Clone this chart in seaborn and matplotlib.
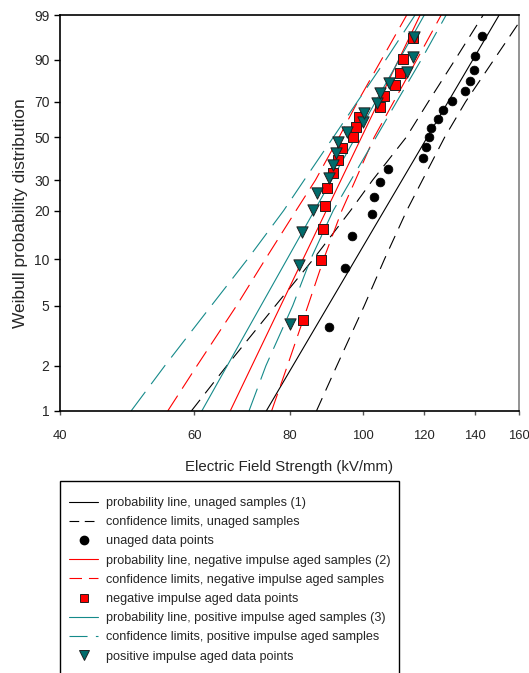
import numpy as np
import pandas as pd
import matplotlib
matplotlib.use("Agg")
import matplotlib.pyplot as plt
import seaborn as sns
from matplotlib.lines import Line2D
from matplotlib.patches import Rectangle
from matplotlib.ticker import NullLocator

# ---------------- data ----------------
unaged_kv = [90.2, 94.6, 96.6, 102.7, 103.3, 105.2, 107.7, 119.8, 120.9, 122.0,
             122.7, 125.3, 127.2, 130.7, 136.0, 138.0, 139.7, 140.1, 143.1]
unaged_pct = [3.6, 8.8, 13.9, 19.1, 24.2, 29.4, 34.5, 39.7, 44.8, 50.0,
              55.2, 60.3, 65.5, 70.6, 75.8, 80.9, 86.1, 91.2, 96.4]

neg_kv = [83.3, 88.0, 88.4, 89.1, 89.5, 91.2, 92.6, 93.8, 96.9, 97.8,
          98.8, 105.0, 106.5, 110.0, 111.7, 112.6, 116.3]
neg_pct = [4.0, 9.8, 15.5, 21.3, 27.0, 32.8, 38.5, 44.3, 50.0, 55.7,
           61.5, 67.2, 73.0, 78.7, 84.5, 90.2, 96.0]

pos_kv = [80.1, 82.4, 83.0, 86.0, 87.0, 90.1, 91.3, 92.1, 92.6, 95.1,
          100.0, 100.2, 104.1, 105.0, 108.0, 114.0, 116.1, 116.6]
pos_pct = [3.8, 9.2, 14.7, 20.1, 25.5, 31.0, 36.4, 41.8, 47.3, 52.7,
           58.2, 63.6, 69.0, 74.5, 79.9, 85.3, 90.8, 96.2]

# probability (fit) lines: field strength at 1 % and 99 %
fit_pct = [1, 99]
unaged_fit = [74.6, 150.7]
neg_fit = [66.9, 118.7]
pos_fit = [61.4, 120.2]

# confidence limits
band_pct = [1, 2, 5, 10, 20, 30, 50, 70, 90, 99]
unaged_lo = [59.5, 66.2, 76.7, 86.0, 96.2, 102.8, 113.8, 121.7, 131.9, 143.6]
unaged_hi = [86.8, 92.3, 100.3, 106.6, 114.0, 119.5, 127.8, 136.2, 148.3, 162.5]
neg_lo = [55.4, 60.5, 68.2, 74.4, 81.6, 86.5, 92.9, 98.3, 105.6, 114.0]
neg_hi = [75.8, 79.5, 84.6, 88.7, 93.7, 97.6, 103.3, 109.6, 117.5, 126.5]
pos_lo = [49.6, 54.9, 63.2, 70.5, 78.6, 83.6, 91.3, 98.2, 107.0, 116.9]
pos_hi = [70.8, 74.5, 80.8, 85.3, 91.3, 96.3, 103.9, 110.6, 119.1, 128.4]

x_ticks = [40, 60, 80, 100, 120, 140, 160]
y_ticks = [1, 2, 5, 10, 20, 30, 50, 70, 90, 99]

labels = [
    "probability line, unaged samples (1)",
    "confidence limits, unaged samples",
    "unaged data points",
    "probability line, negative impulse aged samples (2)",
    "confidence limits, negative impulse aged samples",
    "negative impulse aged data points",
    "probability line, positive impulse aged samples (3)",
    "confidence limits, positive impulse aged samples",
    "positive impulse aged data points",
]

# ---------------- style ----------------
sns.set_theme(style="white")
plt.rcParams["font.family"] = ["Liberation Sans", "DejaVu Sans"]
plt.rcParams["lines.scale_dashes"] = False
NARROW = ["Liberation Sans Narrow", "DejaVu Sans Condensed", "Liberation Sans"]

BLACK = "#000000"
RED = "#ff0000"
TEAL = "#158a8a"
TEAL_MK = "#006b6b"

dash_k = (0, (10, 6))
dash_r = (0, (13, 6))
dash_t = (0, (17, 7))


def fwd(p):
    p = np.asarray(p, dtype=float)
    with np.errstate(all="ignore"):
        q = np.clip(p / 100.0, 1e-12, 1 - 1e-12)
        return np.log(-np.log(1 - q))


def inv(u):
    u = np.asarray(u, dtype=float)
    with np.errstate(all="ignore"):
        return 100.0 * (1 - np.exp(-np.exp(u)))


fig = plt.figure(figsize=(5.29, 6.73), dpi=100)
ax = fig.add_axes([60 / 529, 1 - 410.8 / 673, 459 / 529, 395.8 / 673])

groups = [
    (unaged_fit, unaged_lo, unaged_hi, BLACK, dash_k),
    (neg_fit, neg_lo, neg_hi, RED, dash_r),
    (pos_fit, pos_lo, pos_hi, TEAL, dash_t),
]
for fit, lo, hi, col, dsh in groups:
    sns.lineplot(x=fit, y=fit_pct, ax=ax, color=col, lw=0.8, sort=False,
                 estimator=None, legend=False)
    for b in (lo, hi):
        sns.lineplot(x=b, y=band_pct, ax=ax, color=col, lw=0.8, sort=False,
                     estimator=None, legend=False, linestyle=dsh)

sns.scatterplot(x=unaged_kv, y=unaged_pct, ax=ax, marker="o", s=40,
                color=BLACK, edgecolor=BLACK, linewidth=0.5, zorder=5, legend=False)
sns.scatterplot(x=neg_kv, y=neg_pct, ax=ax, marker="s", s=46,
                color=RED, edgecolor="#202020", linewidth=0.7, zorder=6, legend=False)
sns.scatterplot(x=pos_kv, y=pos_pct, ax=ax, marker="v", s=66,
                color=TEAL_MK, edgecolor="#202020", linewidth=0.7, zorder=7, legend=False)

ax.set_xscale("log")
ax.set_yscale("function", functions=(fwd, inv))
ax.set_xlim(40, 160)
ax.set_ylim(1, 99)

ax.set_xticks(x_ticks, [str(t) for t in x_ticks], fontfamily=NARROW, fontsize=9.4)
ax.set_yticks(y_ticks, [str(t) for t in y_ticks], fontfamily=NARROW, fontsize=10)
ax.xaxis.set_minor_locator(NullLocator())
ax.yaxis.set_minor_locator(NullLocator())

for side in ["left", "bottom", "top"]:
    ax.spines[side].set_color("black")
    ax.spines[side].set_linewidth(1.2)
ax.spines["right"].set_color("#808080")
ax.spines["right"].set_linewidth(1.2)

ax.tick_params(axis="y", direction="out", length=4.5, width=1, color="black",
               pad=3, left=True)
ax.tick_params(axis="x", direction="out", length=3, width=1, color="#555555",
               pad=10.5, bottom=True)

ax.set_xlabel("Electric Field Strength (kV/mm)", fontsize=10.8, labelpad=13)
ax.set_ylabel("Weibull probability distribution", fontsize=12.5, labelpad=4)

handles = [
    Line2D([], [], color=BLACK, lw=0.8),
    Line2D([], [], color=BLACK, lw=0.8, linestyle=(0, (7, 4))),
    Line2D([], [], color=BLACK, marker="o", linestyle="none", markersize=6),
    Line2D([], [], color=RED, lw=0.8),
    Line2D([], [], color=RED, lw=0.8, linestyle=(0, (9, 5))),
    Line2D([], [], color=RED, marker="s", linestyle="none", markersize=6,
           markeredgecolor="#202020", markeredgewidth=0.7),
    Line2D([], [], color=TEAL, lw=0.8),
    Line2D([], [], color=TEAL, lw=0.8, linestyle=(0, (13, 6))),
    Line2D([], [], color=TEAL_MK, marker="v", linestyle="none", markersize=7,
           markeredgecolor="#202020", markeredgewidth=0.7),
]
leg = fig.legend(handles, labels, loc="upper left",
                 bbox_to_anchor=(69 / 529, 1 - 497 / 673),
                 borderaxespad=0, borderpad=0, frameon=False,
                 fontsize=9.1, handlelength=2.3,
                 handletextpad=0.6, labelspacing=0.57)

fig.patches.append(Rectangle((60 / 529, -0.02), 339 / 529, (673 - 481) / 673 + 0.02,
                             transform=fig.transFigure, fill=False,
                             edgecolor="black", linewidth=1.0, zorder=10))

fig.savefig("out.png", dpi=100)
